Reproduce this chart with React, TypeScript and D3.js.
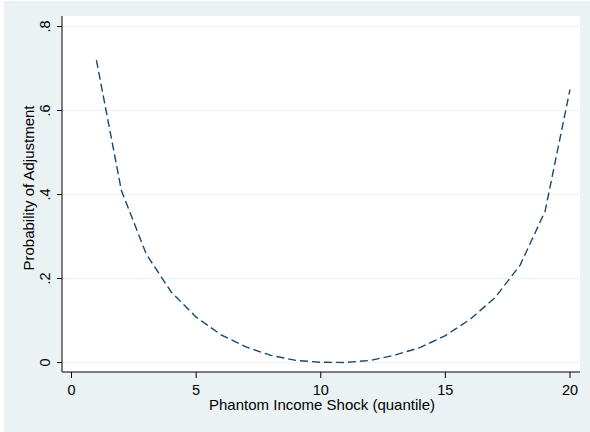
import React from "react";
import * as d3 from "d3";

const quantiles = [1, 2, 3, 4, 5, 6, 7, 8, 9, 10, 11, 12, 13, 14, 15, 16, 17, 18, 19, 20];
const probability = [0.72, 0.41, 0.258, 0.168, 0.108, 0.066, 0.037, 0.017, 0.005, 0.0005, 0.0, 0.005, 0.018, 0.036, 0.064, 0.103, 0.155, 0.232, 0.36, 0.65];
const xTicks = [0, 5, 10, 15, 20];
const yTicks = [0, 0.2, 0.4, 0.6, 0.8];
const yTickLabels = ["0", ".2", ".4", ".6", ".8"];

const W = 590;
const H = 432;
const FONT = "'Liberation Sans', Arial, sans-serif";

export default function App() {
  const plot = { left: 62, right: 580, top: 16, bottom: 372 };
  const x = d3.scaleLinear().domain([0, 20]).range([71.5, 570]);
  const y = d3.scaleLinear().domain([0, 0.8]).range([362.5, 26.5]);
  const data = quantiles.map((q, i) => ({ q, p: probability[i] }));
  const line = d3
    .line<{ q: number; p: number }>()
    .x((d) => x(d.q))
    .y((d) => y(d.p));

  return (
    <svg
      width={W}
      height={H}
      style={{ position: "absolute", left: 0, top: 0, display: "block" }}
    >
      <rect x={0} y={0} width={W} height={H} fill="#ffffff" />
      <rect x={4} y={1} width={W - 4} height={H - 1} fill="#EAF2F3" />
      <rect
        x={plot.left}
        y={plot.top}
        width={plot.right - plot.left}
        height={plot.bottom - plot.top}
        fill="#ffffff"
      />
      {yTicks.map((t) => (
        <line
          key={"g" + t}
          x1={plot.left}
          x2={plot.right}
          y1={y(t)}
          y2={y(t)}
          stroke="#EAF2F3"
          strokeWidth={1.2}
        />
      ))}
      <path
        d={line(data) || ""}
        fill="none"
        stroke="#1A476F"
        strokeWidth={1.4}
        strokeDasharray="8,4"
      />
      {/* y axis */}
      <line x1={plot.left} x2={plot.left} y1={plot.top} y2={plot.bottom} stroke="#000" strokeWidth={1} />
      {yTicks.map((t, i) => (
        <g key={"y" + t}>
          <line x1={plot.left - 5} x2={plot.left} y1={y(t)} y2={y(t)} stroke="#000" strokeWidth={1} />
          <text
            transform={`translate(50,${y(t)}) rotate(-90)`}
            textAnchor="middle"
            fontFamily={FONT}
            fontSize={14.5}
            fill="#000"
          >
            {yTickLabels[i]}
          </text>
        </g>
      ))}
      <text
        transform={`translate(34,188) rotate(-90)`}
        textAnchor="middle"
        fontFamily={FONT}
        fontSize={15}
        fill="#000"
      >
        Probability of Adjustment
      </text>
      {/* x axis */}
      <line x1={plot.left} x2={plot.right} y1={plot.bottom} y2={plot.bottom} stroke="#000" strokeWidth={1} />
      {xTicks.map((t) => (
        <g key={"x" + t}>
          <line x1={x(t)} x2={x(t)} y1={plot.bottom} y2={plot.bottom + 6} stroke="#000" strokeWidth={1} />
          <text
            x={x(t)}
            y={394.5}
            textAnchor="middle"
            fontFamily={FONT}
            fontSize={14.5}
            fill="#000"
          >
            {t}
          </text>
        </g>
      ))}
      <text
        x={322}
        y={410}
        textAnchor="middle"
        fontFamily={FONT}
        fontSize={15}
        fill="#000"
      >
        Phantom Income Shock (quantile)
      </text>
    </svg>
  );
}
